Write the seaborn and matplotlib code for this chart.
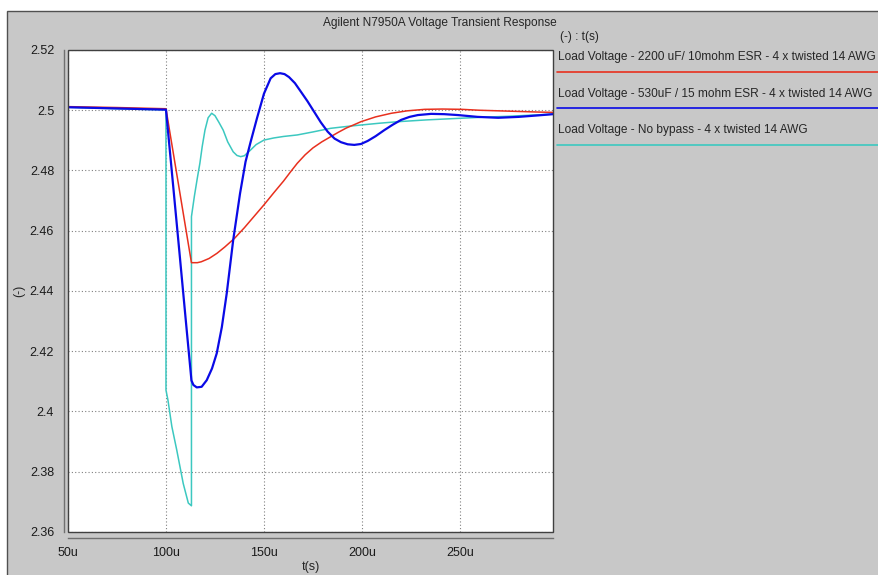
import matplotlib
matplotlib.use('Agg')
import matplotlib.pyplot as plt
import seaborn as sns
import pandas as pd
from matplotlib.patches import Rectangle
from matplotlib.lines import Line2D

# time in microseconds, load voltage in volts
red_t = [50, 75, 100, 102, 105, 108, 111, 113, 116, 118, 122, 126, 130, 135, 140, 145,
         150, 155, 160, 163.5, 167, 171, 175, 179.5, 184, 188, 192, 196, 199.5, 207,
         215, 223, 232, 241, 251, 260, 270, 280, 290, 297.5]
red_v = [2.5012, 2.5009, 2.5005, 2.4926, 2.4808, 2.4690, 2.4572, 2.4494, 2.4494, 2.4497,
         2.4508, 2.4525, 2.4546, 2.4575, 2.4610, 2.4648, 2.4686, 2.4726, 2.4765, 2.4795,
         2.4824, 2.4852, 2.4875, 2.4895, 2.4912, 2.4927, 2.4941, 2.4952, 2.4962, 2.4978,
         2.4990, 2.4998, 2.5003, 2.5004, 2.5003, 2.5000, 2.4998, 2.4996, 2.4994, 2.4993]

blue_t = [50, 75, 100, 103, 107, 110, 113, 114, 115.7, 118.2, 120.8, 123.5, 125.9, 128.5,
          131, 134.3, 137.8, 140.6, 143.2, 146.5, 150, 153.4, 155.8, 158.2, 160.5, 162.8,
          165.8, 168.8, 172.2, 175.6, 179, 182.5, 186, 189.3, 192.7, 196.1, 199.5, 202.9,
          207, 211.4, 215.7, 220, 224.3, 228.5, 235.3, 242, 249, 259, 269.5, 280, 290,
          297.5]
blue_v = [2.5010, 2.5006, 2.5002, 2.4795, 2.4519, 2.4310, 2.4103, 2.4088, 2.4080, 2.4082,
          2.4104, 2.4143, 2.4193, 2.4280, 2.4392, 2.4569, 2.4724, 2.4829, 2.4895, 2.4975,
          2.5055, 2.5106, 2.5120, 2.5123, 2.5120, 2.5110, 2.5090, 2.5062, 2.5030, 2.4995,
          2.4960, 2.4929, 2.4906, 2.4894, 2.4887, 2.4885, 2.4888, 2.4898, 2.4914, 2.4934,
          2.4952, 2.4968, 2.4978, 2.4984, 2.4988, 2.4987, 2.4984, 2.4978, 2.4975, 2.4978,
          2.4983, 2.4987]

cyan_t = [50, 75, 100, 100, 101, 103, 105.5, 108.8, 111.4, 113, 113, 114.5, 116, 117.3,
          118.5, 119.9, 121.5, 123.3, 125, 127, 129.2, 131.5, 134.3, 136.2, 138.1, 140,
          143, 146, 150, 155, 160, 167, 175, 184, 192, 199.5, 209, 218.3, 233, 249, 262,
          275, 287, 297.5]
cyan_v = [2.5010, 2.5005, 2.5001, 2.4071, 2.4038, 2.3950, 2.3872, 2.3761, 2.3696, 2.3687,
          2.4647, 2.4715, 2.4775, 2.4824, 2.4880, 2.4934, 2.4975, 2.4990, 2.4982, 2.4960,
          2.4934, 2.4895, 2.4862, 2.4850, 2.4846, 2.4849, 2.4867, 2.4886, 2.4901, 2.4908,
          2.4913, 2.4918, 2.4928, 2.4940, 2.4946, 2.4951, 2.4957, 2.4962, 2.4968, 2.4973,
          2.4977, 2.4980, 2.4984, 2.4987]

series_labels = ['Load Voltage - 2200 uF/ 10mohm ESR - 4 x twisted 14 AWG',
                 'Load Voltage - 530uF / 15 mohm ESR - 4 x twisted 14 AWG',
                 'Load Voltage - No bypass - 4 x twisted 14 AWG']
series_colors = ['#e8301e', '#0a0ae6', '#3cc8c0']

x_ticks = [50, 100, 150, 200, 250]
x_tick_labels = ['50u', '100u', '150u', '200u', '250u']
y_ticks = [2.36, 2.38, 2.40, 2.42, 2.44, 2.46, 2.48, 2.50, 2.52]
y_tick_labels = ['2.36', '2.38', '2.4', '2.42', '2.44', '2.46', '2.48', '2.5', '2.52']

W, H = 879, 575

sns.set_style('white')
plt.rcParams['font.family'] = ['Liberation Sans', 'DejaVu Sans']

fig = plt.figure(figsize=(W / 100, H / 100), dpi=100)
fig.patch.set_facecolor('white')
fig.add_artist(Rectangle((7 / W, -0.01), 1.0, 1 - 11 / H + 0.01, transform=fig.transFigure,
                         facecolor='#c8c8c8', edgecolor='#505050', lw=1.0, zorder=-10))

ax = fig.add_axes([68 / W, 1 - 532 / H, (553 - 68) / W, (532 - 50) / H])
ax.set_facecolor('white')

data = [(cyan_t, cyan_v, 2, 1.1), (red_t, red_v, 0, 1.1), (blue_t, blue_v, 1, 1.6)]
for t, v, i, lw in data:
    df = pd.DataFrame({'t': t, 'v': v})
    sns.lineplot(data=df, x='t', y='v', ax=ax, color=series_colors[i], lw=lw,
                 sort=False, estimator=None, legend=False)

ax.set_xlim(50, 297.5)
ax.set_ylim(2.36, 2.52)
ax.set_xticks(x_ticks)
ax.set_xticklabels(x_tick_labels)
ax.set_yticks(y_ticks)
ax.set_yticklabels(y_tick_labels)
ax.grid(True, linestyle=(0, (1, 2)), color='#808080', lw=0.8)

for side in ['top', 'right']:
    ax.spines[side].set_visible(False)
ax.spines['left'].set_position(('outward', 3))
ax.spines['bottom'].set_position(('outward', 4))
for side in ['left', 'bottom']:
    ax.spines[side].set_color('#707070')
    ax.spines[side].set_linewidth(1.0)
ax.add_patch(Rectangle((0, 0), 1, 1, transform=ax.transAxes, fill=False,
                       edgecolor='#404040', lw=1.0, clip_on=False, zorder=5))
ax.tick_params(axis='both', direction='out', length=4, width=0.8, color='#606060',
               labelsize=9, labelcolor='#1a1a1a', pad=3)

ax.set_xlabel('t(s)', fontsize=9, labelpad=1)
ax.set_ylabel('')
fig.text(19 / W, 1 - 291 / H, '(-)', rotation=90, ha='center', va='center', fontsize=9)

fig.text(0.5, 1 - 23 / H, 'Agilent N7950A Voltage Transient Response',
         ha='center', va='center', fontsize=8.6)
fig.text(560 / W, 1 - 37 / H, '(-) : t(s)', ha='left', va='center', fontsize=8.6)

text_y = [57, 94, 130]
line_y = [72, 108, 145]
for i in range(3):
    fig.text(558 / W, 1 - text_y[i] / H, series_labels[i], ha='left', va='center',
             fontsize=8.55)
    fig.add_artist(Line2D([557 / W, 1.0], [1 - line_y[i] / H] * 2,
                          transform=fig.transFigure, color=series_colors[i], lw=1.2))

fig.savefig('out.png', dpi=100, facecolor=fig.get_facecolor())
